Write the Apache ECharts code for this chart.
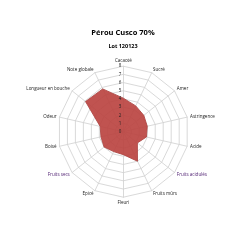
<!DOCTYPE html>
<html><head><meta charset="utf-8">
<script src="https://cdn.jsdelivr.net/npm/echarts@6/dist/echarts.min.js"></script>
<style>html,body{margin:0;padding:0;background:#fff}#c{width:246px;height:246px}</style>
</head><body><div id="c"></div>
<script>
// Data in clockwise order from top (as in reference)
const categories = ['Cacaoté','Sucré','Amer','Astringence','Acide','Fruits acidulés','Fruits mûrs','Fleuri','Epicé','Fruits secs','Boisé','Odeur','Longueur en bouche','Note globale'];
const values = [4.1, 3.5, 3.2, 3.0, 2.9, 2.2, 4.0, 2.8, 2.7, 3.0, 2.8, 2.9, 5.9, 5.8];
const tickLabels = ['0','1','2','3','4','5','6','7','8'];
const titleText = 'Pérou Cusco 70%';
const subtitleText = 'Lot 120123';
const highlighted = ['Fruits secs','Fruits acidulés'];

// ECharts radar runs counter-clockwise; reorder to draw clockwise
const order = [0].concat(categories.map((_, i) => i).slice(1).reverse());
const cats = order.map(i => categories[i]);
const vals = order.map(i => values[i]);
const maxV = tickLabels.length - 1;

const cx = 123.3, cy = 131.7, R = 65.5;
const chart = echarts.init(document.getElementById('c'), null, {renderer: 'canvas'});
chart.setOption({
  animation: false,
  title: [
    {text: titleText, left: 'center', top: 24, textStyle: {fontFamily: 'Open Sans', fontWeight: 'bold', fontSize: 7.5, color: '#000'}},
    {text: subtitleText, left: 'center', top: 38, textStyle: {fontFamily: 'Open Sans', fontWeight: 'bold', fontSize: 5.5, color: '#000'}}
  ],
  radar: {
    center: [cx, cy],
    radius: R,
    shape: 'polygon',
    splitNumber: maxV,
    startAngle: 90,
    nameGap: 3,
    indicator: cats.map(n => ({name: n, min: 0, max: maxV})),
    axisName: {
      fontFamily: 'Open Sans', fontSize: 4.5, color: '#222',
      formatter: (n) => highlighted.indexOf(n) >= 0 ? '{h|' + n + '}' : n,
      rich: {h: {fontFamily: 'Open Sans', fontSize: 4.5, color: '#4b1a6e'}}
    },
    splitLine: {lineStyle: {color: '#cfcfcf', width: 0.8}},
    splitArea: {show: false},
    axisLine: {lineStyle: {color: '#cfcfcf', width: 0.8}}
  },
  grid: {left: cx, width: 0.01, top: cy - R, height: R, z: 10},
  xAxis: {type: 'value', show: false},
  yAxis: {
    type: 'value', min: 0, max: maxV, interval: 1, position: 'left', z: 10,
    axisLine: {show: false}, axisTick: {show: false}, splitLine: {show: false},
    axisLabel: {fontFamily: 'Open Sans', fontSize: 4.5, color: '#222', margin: 2,
      formatter: (v) => tickLabels[v]}
  },
  series: [{
    type: 'radar',
    symbol: 'none',
    data: [{value: vals}],
    lineStyle: {color: '#9b3a37', width: 0.8},
    areaStyle: {color: '#bb4441', opacity: 0.92},
    z: 1
  }]
});
</script></body></html>
